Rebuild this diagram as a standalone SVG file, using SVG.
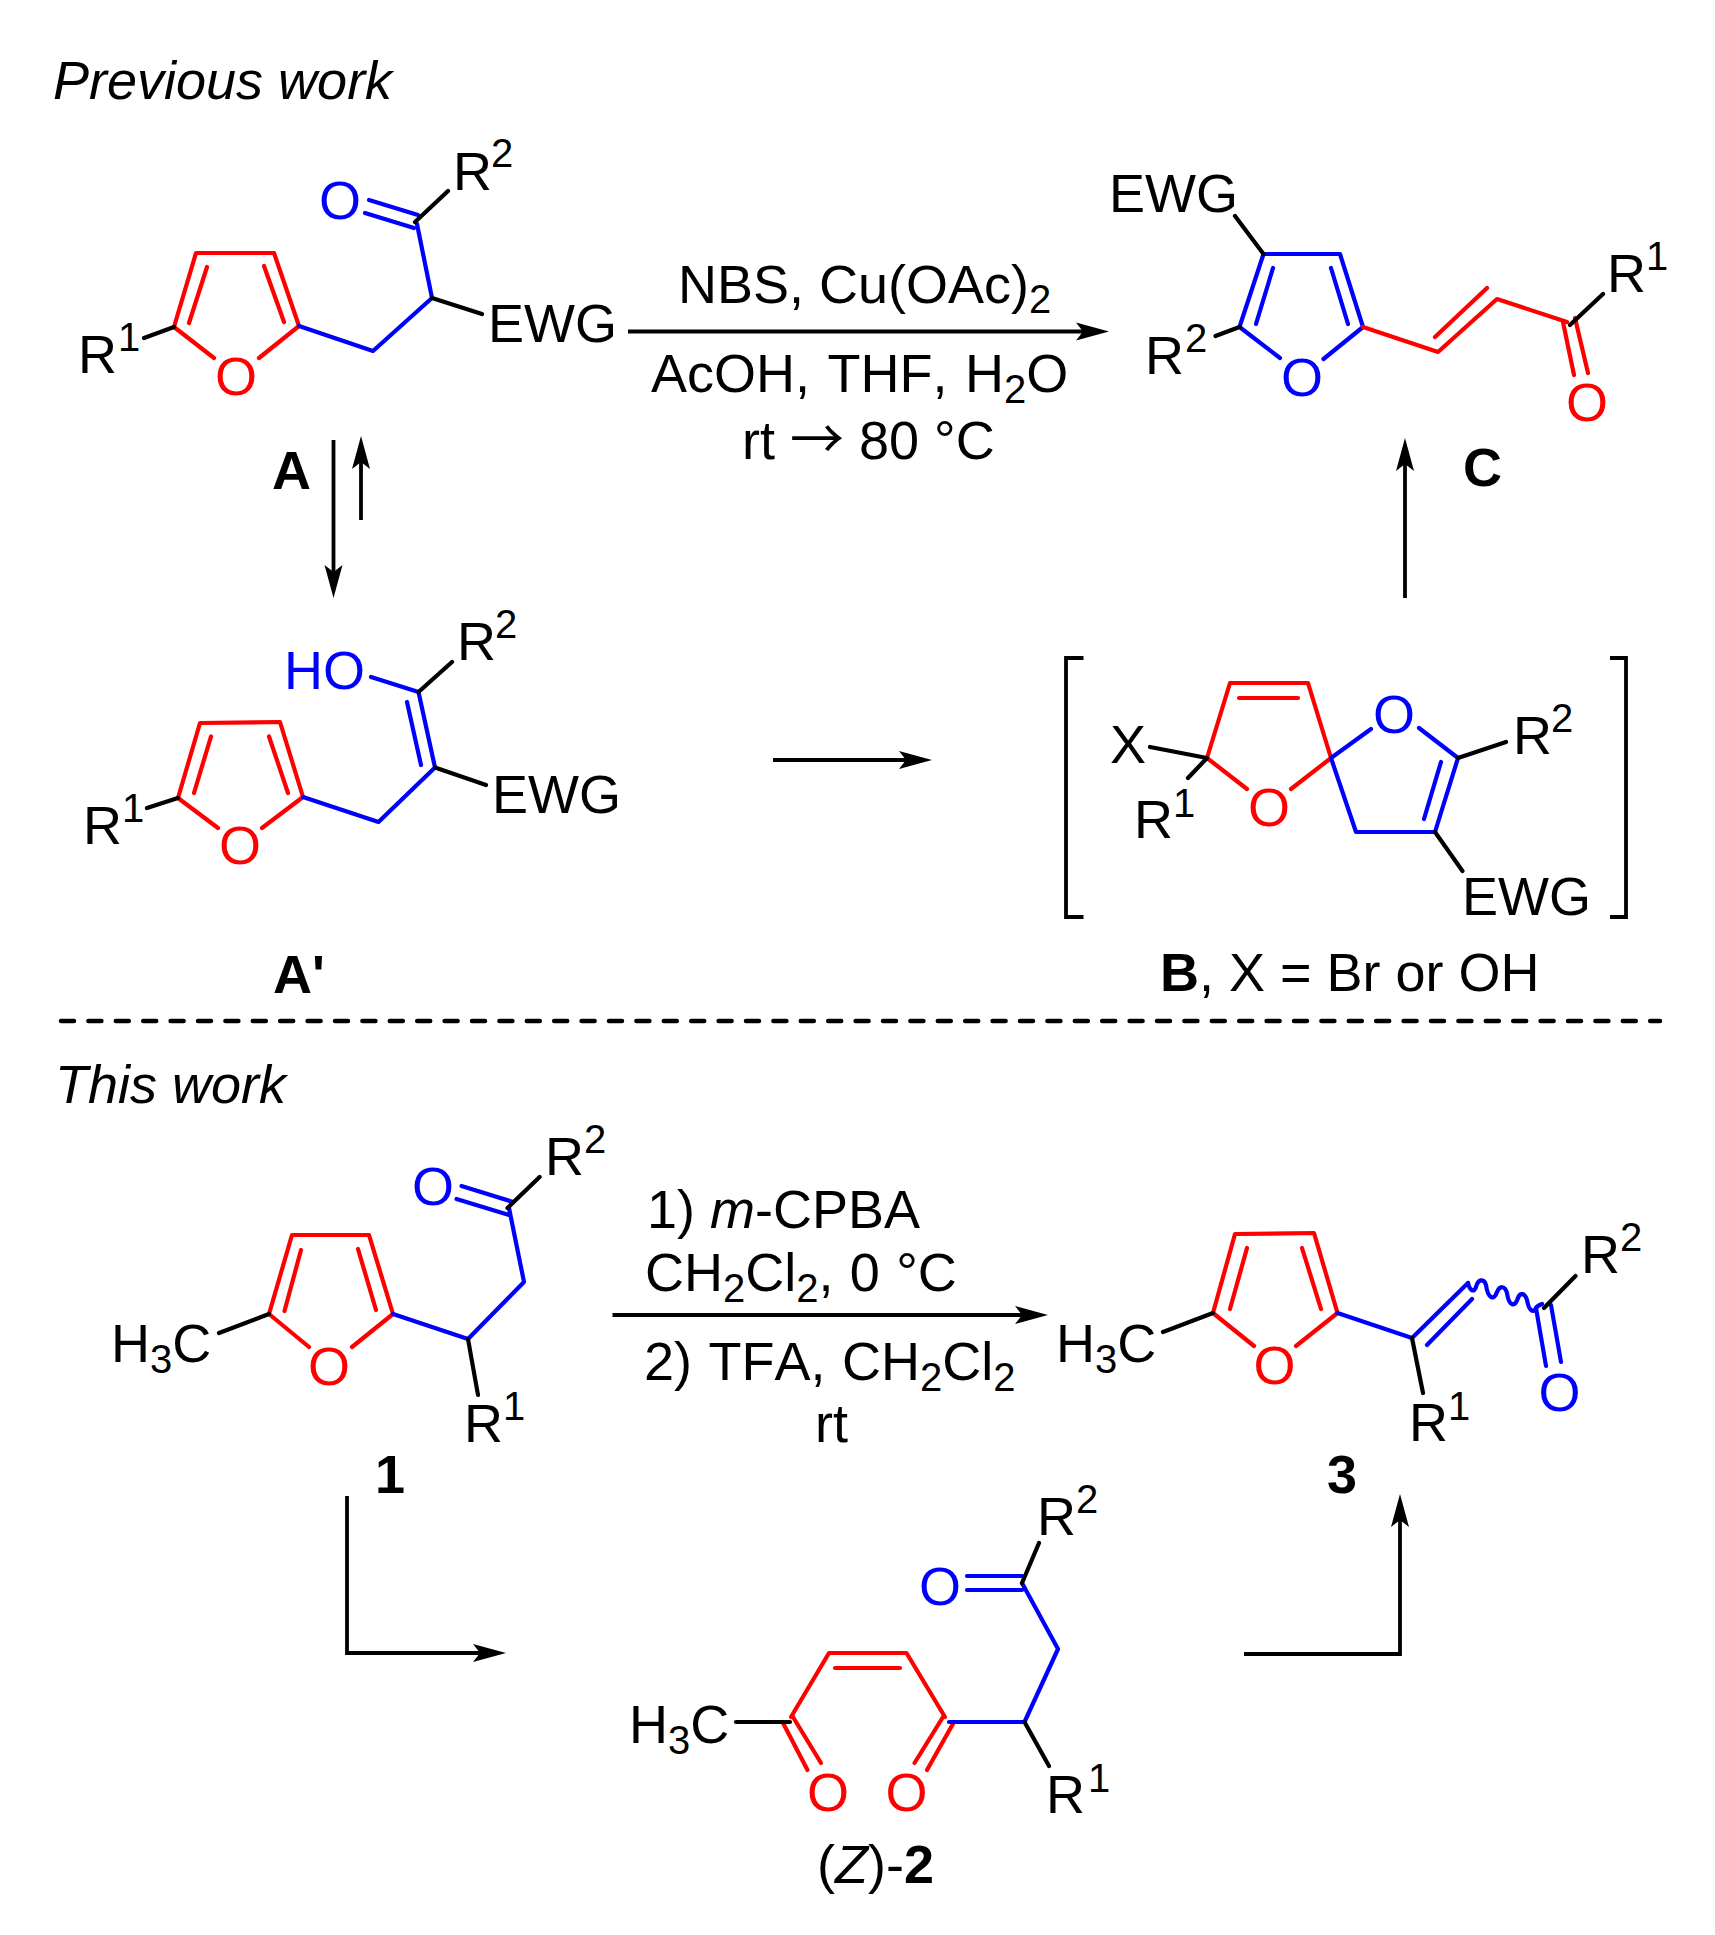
<svg xmlns="http://www.w3.org/2000/svg" width="1715" height="1935" viewBox="0 0 1715 1935">
<style>
text{font-family:"Liberation Sans",Arial,sans-serif;font-size:54px;fill:#000;font-kerning:none}
.i{font-style:italic}
.b{font-weight:bold}
.s{font-size:40px}
.ar{font-family:"Noto Sans CJK SC",sans-serif}
.red{fill:#f00}
.blue{fill:#00f}
.o{text-anchor:middle}
path,line,polyline{fill:none;stroke-linecap:round;stroke-linejoin:round;stroke-width:4.2}
.kr{stroke:#f00}
.kb{stroke:#00f}
.kk{stroke:#000}
.arrow{stroke:#000;stroke-width:3.8;stroke-linecap:butt;stroke-linejoin:miter;marker-end:url(#head)}
.plain{stroke:#000;stroke-width:3.8;stroke-linecap:butt;stroke-linejoin:miter}
</style>
<defs>
<marker id="head" markerUnits="userSpaceOnUse" markerWidth="34" markerHeight="20" viewBox="0 0 34 20" refX="10" refY="10" orient="auto">
<path d="M0,1 L33,10 L0,19 L7,10 Z" style="fill:#000;stroke:none"/>
</marker>
</defs>
<rect width="1715" height="1935" fill="#fff"/>

<g id="labels">
<text class="i" x="53" y="99">Previous work</text>
<text class="i" x="55" y="1103">This work</text>
<text x="678" y="303">NBS, Cu(OAc)<tspan class="s" dy="10">2</tspan></text>
<text x="651" y="392" word-spacing="2.500">AcOH, THF, H<tspan class="s" dy="11">2</tspan><tspan dy="-11">O</tspan></text>
<text x="742" y="459">rt <tspan class="ar">→</tspan> 80 °C</text>
<text class="b" x="272" y="489">A</text>
<text class="b" x="273" y="993">A'</text>
<text class="b" x="1463" y="486">C</text>
<text x="1160" y="991"><tspan class="b">B</tspan>, X = Br or OH</text>
<text x="647" y="1228">1) <tspan class="i">m</tspan>-CPBA</text>
<text x="645" y="1291" word-spacing="1.300">CH<tspan class="s" dy="11">2</tspan><tspan dy="-11">Cl</tspan><tspan class="s" dy="11">2</tspan><tspan dy="-11">, 0 °C</tspan></text>
<text x="644" y="1380" word-spacing="1.500">2) TFA, CH<tspan class="s" dy="11">2</tspan><tspan dy="-11">Cl</tspan><tspan class="s" dy="11">2</tspan></text>
<text x="815" y="1442">rt</text>
<text class="b" x="375" y="1493">1</text>
<text class="b" x="1327" y="1493">3</text>
<text x="817" y="1883">(<tspan class="i">Z</tspan>)-<tspan class="b">2</tspan></text>
</g>

<g id="connectors">
<line class="arrow" x1="628" y1="331.500" x2="1086" y2="331.500"/>
<line class="arrow" x1="333.500" y1="440" x2="333.500" y2="575"/>
<line class="arrow" x1="361" y1="520" x2="361" y2="459"/>
<line class="arrow" x1="1405" y1="598" x2="1405" y2="461"/>
<line class="arrow" x1="773" y1="760" x2="909" y2="760"/>
<line class="arrow" x1="612.500" y1="1315" x2="1025" y2="1315"/>
<polyline class="arrow" points="347,1496 347,1653 483,1653"/>
<polyline class="arrow" points="1244,1654 1400,1654 1400,1517"/>
<line id="divider" x1="61" y1="1021" x2="1660" y2="1021" style="stroke:#000;stroke-width:4.500;stroke-dasharray:13 14.400;stroke-linecap:round"/>
</g>

<g id="node-A">
<path class="kr" d="M214,358 L174,327 L196,253 L274,253 L299,326 L259,358 M189,323 L207,267 M284,322 L264,266"/>
<path class="kb" d="M299,326 L373,351 L432,298 L417,224 M414,228 L365,213 M418,215 L369,200"/>
<path class="kk" d="M174,327 L144,338 M415,222 L448,191 M432,298 L482,314"/>
<text class="red o" x="236" y="395">O</text>
<text class="blue o" x="340" y="219">O</text>
<text x="78" y="373">R<tspan class="s" x="118" y="351">1</tspan></text>
<text x="453" y="190">R<tspan class="s" x="491" y="167">2</tspan></text>
<text x="488" y="342">EWG</text>
</g>

<g id="node-C">
<path class="kb" d="M1280,358 L1239.500,327 L1263.500,254 L1340,254 L1363,327 L1323.500,359 M1273,268 L1256,324 M1331,268 L1348,324"/>
<path class="kr" d="M1363,327 L1438,352 L1497,299 L1567,322 M1435,337 L1487,288 M1563,322 L1574,375 M1575,318 L1588,373"/>
<path class="kk" d="M1235,216 L1263.500,254 M1239.500,327 L1215.500,336 M1570,325 L1603,294"/>
<text class="blue o" x="1302" y="396">O</text>
<text class="red o" x="1587" y="421">O</text>
<text x="1109" y="212">EWG</text>
<text x="1145" y="374">R<tspan class="s" x="1185" y="352">2</tspan></text>
<text x="1607" y="292">R<tspan class="s" x="1646" y="270">1</tspan></text>
</g>

<g id="node-A-prime">
<path class="kr" d="M218,828 L178,798 L200,723 L280,722 L303,797 L262,828 M194,793 L211,736.500 M288,793 L269,736.500"/>
<path class="kb" d="M303,797 L378.500,822 L435,767.500 L418.500,692 L371,677 M407,702 L421,765"/>
<path class="kk" d="M178,798 L147,808 M418.500,692 L452,662 M435,767.500 L486,785"/>
<text class="red o" x="240" y="864">O</text>
<text class="blue" x="284" y="689">HO</text>
<text x="83" y="844">R<tspan class="s" x="122" y="822">1</tspan></text>
<text x="457" y="660">R<tspan class="s" x="495" y="638">2</tspan></text>
<text x="492" y="813">EWG</text>
</g>

<g id="node-B">
<path class="plain" d="M1083.500,658 L1066,658 L1066,917 L1083.500,917 M1610,658 L1626,658 L1626,917 L1610,917"/>
<path class="kr" d="M1247,789 L1207,758 L1230,683 L1308,683 L1331,758 L1291,789 M1239,698 L1298,698"/>
<path class="kb" d="M1371,729 L1331,758 L1356,832 L1435,832 L1458,758 L1419,728 M1441,762 L1424,819"/>
<path class="kk" d="M1150,747 L1207,758 L1188,778 M1458,758 L1506,742 M1435,832 L1462.500,871"/>
<text class="red o" x="1269" y="826">O</text>
<text class="blue o" x="1394" y="733">O</text>
<text x="1110" y="763">X</text>
<text x="1134" y="838">R<tspan class="s" x="1173" y="817">1</tspan></text>
<text x="1513" y="754">R<tspan class="s" x="1551" y="732">2</tspan></text>
<text x="1462" y="915">EWG</text>
</g>

<g id="node-1">
<path class="kr" d="M309,1347 L269,1314 L292,1235 L369,1235 L393,1314 L352,1347 M284.500,1311 L301,1250 M376,1310 L358,1249"/>
<path class="kb" d="M393,1314 L468,1339 L524,1282 L509,1208 M509,1215 L456.500,1199 M513,1202 L461.500,1186"/>
<path class="kk" d="M269,1314 L219,1333 M507.500,1208 L539.600,1177 M468,1339 L478,1395"/>
<text class="red o" x="329" y="1385">O</text>
<text class="blue o" x="433" y="1205">O</text>
<text x="111" y="1362">H<tspan class="s" dy="11">3</tspan><tspan dy="-11">C</tspan></text>
<text x="464" y="1442">R<tspan class="s" x="503" y="1420">1</tspan></text>
<text x="545" y="1175">R<tspan class="s" x="584" y="1153">2</tspan></text>
</g>

<g id="node-3">
<path class="kr" d="M1254,1346 L1213,1313 L1235,1234 L1314,1233 L1337.500,1313 L1296,1346 M1230,1309 L1247,1248 M1321,1309 L1302,1248"/>
<path class="kb" d="M1337.500,1313 L1412,1338 L1468,1283 M1427,1345 L1472,1299 M1536,1308 L1546,1366 M1551,1305 L1561,1362"/>
<path class="kb" d="M1468,1283 C1470,1291 1474,1293 1476,1287 C1478,1279 1484,1278 1486,1285 C1488,1299 1494,1301 1497,1292 C1500,1285 1505,1286 1507,1293 C1509,1307 1515,1307 1518,1298 C1520,1292 1525,1293 1527,1300 C1529,1312 1534,1313 1536,1308 C1537,1306 1539,1305 1542,1304"/>
<path class="kk" d="M1163,1332 L1213,1313 M1412,1338 L1423,1393 M1544,1308 L1575.500,1276"/>
<text class="red o" x="1274.500" y="1384">O</text>
<text class="blue o" x="1559.500" y="1411">O</text>
<text x="1056" y="1362">H<tspan class="s" dy="11">3</tspan><tspan dy="-11">C</tspan></text>
<text x="1409" y="1441">R<tspan class="s" x="1448" y="1420">1</tspan></text>
<text x="1581" y="1273">R<tspan class="s" x="1620" y="1251">2</tspan></text>
</g>

<g id="node-2">
<path class="kr" d="M945,1717 L906.500,1653 L829,1653 L791,1717 M835,1668 L900,1668 M782.500,1722 L807.500,1770 M793,1717 L821,1763 M943,1717 L914.500,1763 M954,1722 L927,1770"/>
<path class="kb" d="M949,1722 L1024.500,1722 L1058,1649 L1022,1583 M1022,1576 L967,1576 M1022,1590 L967,1590"/>
<path class="kk" d="M736,1722 L790,1722 M1022,1583 L1039,1543 M1024.500,1722 L1049,1766"/>
<text class="blue o" x="940" y="1605">O</text>
<text class="red o" x="828" y="1811">O</text>
<text class="red o" x="906.500" y="1811">O</text>
<text x="629" y="1743">H<tspan class="s" dy="11">3</tspan><tspan dy="-11">C</tspan></text>
<text x="1037" y="1535">R<tspan class="s" x="1076" y="1513">2</tspan></text>
<text x="1046" y="1813">R<tspan class="s" x="1088" y="1792">1</tspan></text>
</g>
</svg>
